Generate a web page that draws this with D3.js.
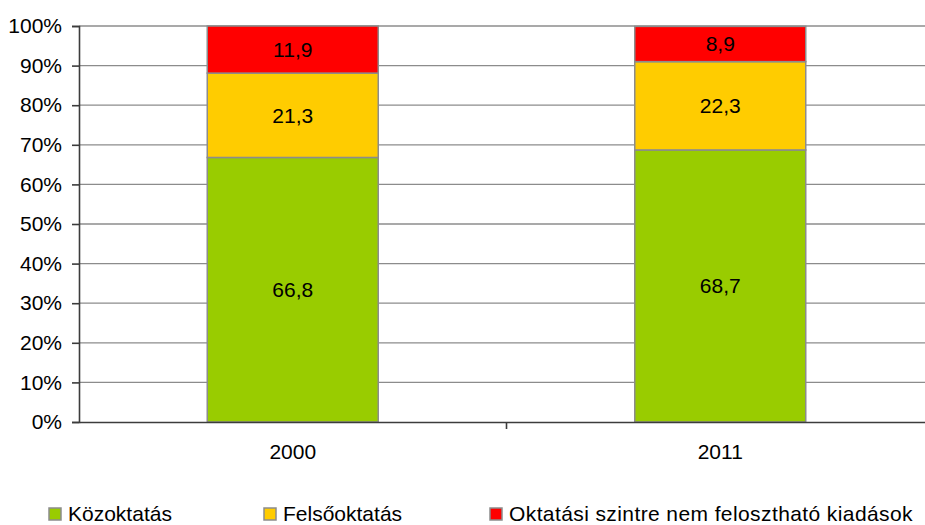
<!DOCTYPE html>
<html>
<head>
<meta charset="utf-8">
<script src="https://d3js.org/d3.v7.min.js"></script>
<style>
  body { margin: 0; background: #fff; }
  text { font-family: "Liberation Sans", Arial, sans-serif; fill: #000; }
</style>
</head>
<body>
<svg id="chart" width="925" height="525"></svg>
<script>
// data
var years = ["2000", "2011"];
var series = ["Közoktatás", "Felsőoktatás", "Oktatási szintre nem felosztható kiadások"];
var kozoktatas = [66.8, 68.7];
var felsooktatas = [21.3, 22.3];
var nemFeloszthato = [11.9, 8.9];
var yTicks = [0, 10, 20, 30, 40, 50, 60, 70, 80, 90, 100];
var colors = ["#99cc00", "#ffcc00", "#ff0000"];

var margin = { top: 26, left: 79 };
var width = 855, height = 396;
var fontSize = "21px";

var svg = d3.select("#chart");
var g = svg.append("g").attr("transform", "translate(" + margin.left + "," + margin.top + ")");

var x = d3.scaleBand().domain(years).range([0, width]).paddingInner(0.6).paddingOuter(0.3);
var y = d3.scaleLinear().domain([0, 100]).range([height, 0]);

// gridlines
g.selectAll("line.grid").data(yTicks.slice(1))
  .enter().append("line")
  .attr("class", "grid")
  .attr("x1", 0).attr("x2", width)
  .attr("y1", function (d) { return y(d); })
  .attr("y2", function (d) { return y(d); })
  .attr("stroke", "#8c8c8c").attr("stroke-width", 1.3);

// stacked data
var rows = years.map(function (yr, i) {
  return { year: yr, s0: kozoktatas[i], s1: felsooktatas[i], s2: nemFeloszthato[i] };
});
var stack = d3.stack().keys(["s0", "s1", "s2"]);
var layers = stack(rows);

var layer = g.selectAll("g.layer").data(layers)
  .enter().append("g")
  .attr("class", "layer")
  .attr("fill", function (d, i) { return colors[i]; });

layer.selectAll("rect").data(function (d) { return d; })
  .enter().append("rect")
  .attr("x", function (d) { return x(d.data.year); })
  .attr("width", x.bandwidth())
  .attr("y", function (d) { return y(d[1]); })
  .attr("height", function (d) { return y(d[0]) - y(d[1]); })
  .attr("stroke", "#8c8c8c").attr("stroke-width", 1.5);

layer.selectAll("text").data(function (d) { return d; })
  .enter().append("text")
  .attr("x", function (d) { return x(d.data.year) + x.bandwidth() / 2; })
  .attr("y", function (d) { return (y(d[0]) + y(d[1])) / 2; })
  .attr("dy", "0.35em")
  .attr("text-anchor", "middle")
  .style("font-size", fontSize)
  .text(function (d) { return (d[1] - d[0]).toFixed(1).replace(".", ","); });

// y axis
var yAxis = g.append("g")
  .call(d3.axisLeft(y).tickValues(yTicks).tickSize(7).tickPadding(10)
    .tickFormat(function (d) { return d + "%"; }));
yAxis.selectAll("text").style("font-size", fontSize).style("font-family", "Liberation Sans, Arial, sans-serif");
yAxis.select(".domain").attr("stroke", "#3c3c3c").attr("stroke-width", 1.6);
yAxis.selectAll(".tick line").attr("stroke", "#3c3c3c").attr("stroke-width", 1.6);

// x axis
var xAxis = g.append("g").attr("transform", "translate(0," + height + ")")
  .call(d3.axisBottom(x).tickSize(0).tickPadding(22));
xAxis.selectAll("text").style("font-size", fontSize).style("font-family", "Liberation Sans, Arial, sans-serif");
xAxis.select(".domain").attr("stroke", "#3c3c3c").attr("stroke-width", 1.6);
xAxis.append("line")
  .attr("x1", width / 2).attr("x2", width / 2)
  .attr("y1", 0).attr("y2", 7)
  .attr("stroke", "#3c3c3c").attr("stroke-width", 1.6);

// legend
var legendX = [49, 264, 490];
var legend = svg.selectAll("g.legend").data(series)
  .enter().append("g")
  .attr("class", "legend")
  .attr("transform", function (d, i) { return "translate(" + legendX[i] + ",508)"; });
legend.append("rect")
  .attr("width", 12).attr("height", 12)
  .attr("fill", function (d, i) { return colors[i]; })
  .attr("stroke", "#8c8c8c").attr("stroke-width", 1.5);
legend.append("text")
  .attr("x", 19).attr("y", 6).attr("dy", "0.35em")
  .style("font-size", fontSize)
  .style("letter-spacing", function (d, i) { return i === 2 ? "0.4px" : null; })
  .text(function (d) { return d; });
</script>
</body>
</html>
